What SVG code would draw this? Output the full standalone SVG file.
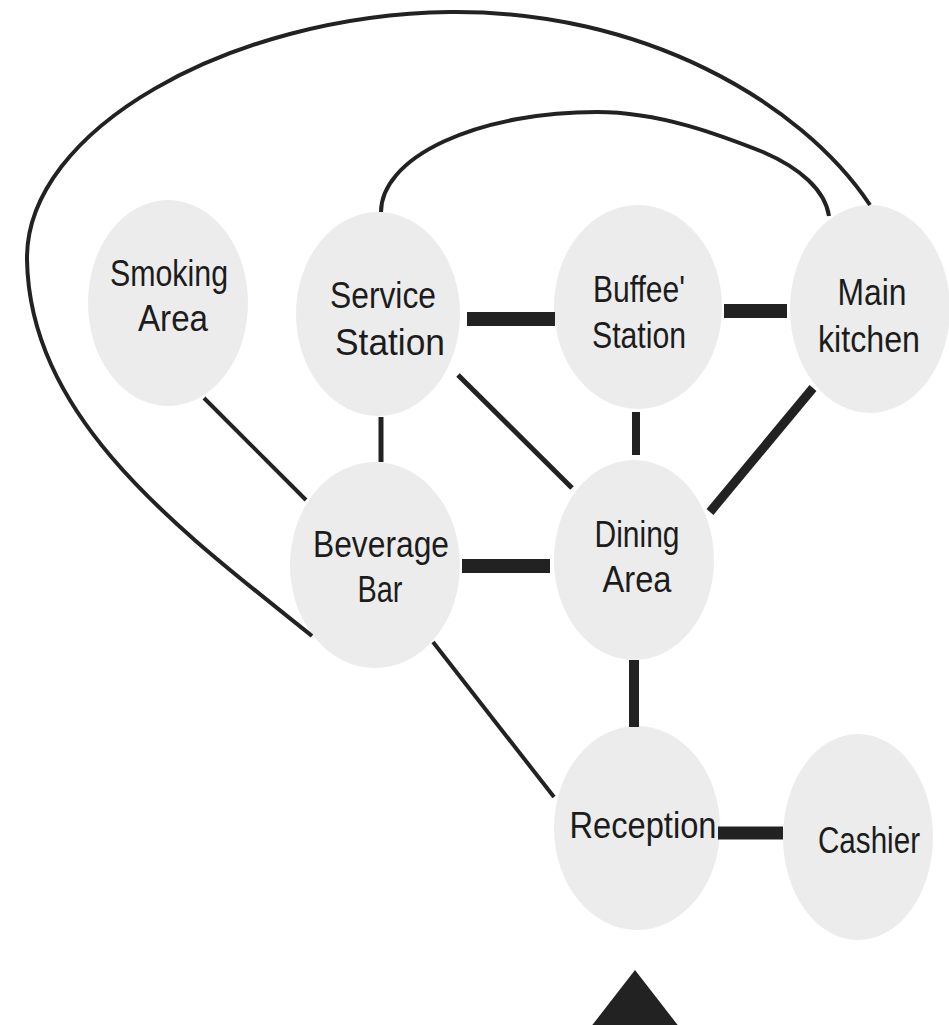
<svg xmlns="http://www.w3.org/2000/svg" width="949" height="1025" viewBox="0 0 949 1025">
<style>
.node ellipse{fill:#ececec;}
.node text{font-family:"Liberation Sans",Arial,sans-serif;font-size:36px;fill:#1c1c1c;text-anchor:middle;}
.e{stroke:#222;fill:none;stroke-linecap:butt;}
.thin{stroke-width:4;}
.mid{stroke-width:9;}
.thick{stroke-width:14;}
</style>
<rect width="949" height="1025" fill="#ffffff"/>
<g id="nodes">
<g id="smoking-area" class="node"><ellipse cx="168" cy="303" rx="80" ry="103"/><text x="169" y="286" textLength="118" lengthAdjust="spacingAndGlyphs">Smoking</text><text x="173" y="331" textLength="70" lengthAdjust="spacingAndGlyphs">Area</text></g>
<g id="service-station" class="node"><ellipse cx="378" cy="314" rx="82" ry="102"/><text x="383" y="308" textLength="106" lengthAdjust="spacingAndGlyphs">Service</text><text x="390" y="355" textLength="110" lengthAdjust="spacingAndGlyphs">Station</text></g>
<g id="buffee-station" class="node"><ellipse cx="638" cy="307" rx="84" ry="102"/><text x="639" y="302" textLength="92" lengthAdjust="spacingAndGlyphs">Buffee'</text><text x="639" y="348" textLength="94" lengthAdjust="spacingAndGlyphs">Station</text></g>
<g id="main-kitchen" class="node"><ellipse cx="870" cy="309" rx="80" ry="104"/><text x="872" y="305" textLength="69" lengthAdjust="spacingAndGlyphs">Main</text><text x="869" y="352" textLength="102" lengthAdjust="spacingAndGlyphs">kitchen</text></g>
<g id="beverage-bar" class="node"><ellipse cx="375" cy="565" rx="85" ry="103"/><text x="381" y="557" textLength="136" lengthAdjust="spacingAndGlyphs">Beverage</text><text x="380" y="602" textLength="45" lengthAdjust="spacingAndGlyphs">Bar</text></g>
<g id="dining-area" class="node"><ellipse cx="634" cy="560" rx="80" ry="100"/><text x="637" y="547" textLength="85" lengthAdjust="spacingAndGlyphs">Dining</text><text x="637" y="592" textLength="69" lengthAdjust="spacingAndGlyphs">Area</text></g>
<g id="reception" class="node"><ellipse cx="637" cy="828" rx="83" ry="102"/><text x="643" y="838" textLength="147" lengthAdjust="spacingAndGlyphs">Reception</text></g>
<g id="cashier" class="node"><ellipse cx="858" cy="837" rx="75" ry="103"/><text x="869" y="853" textLength="102" lengthAdjust="spacingAndGlyphs">Cashier</text></g>
</g>
<g id="connectors">
<path class="e thin" d="M312,636 C180,530 30,420 27,260 C25,130 230,15 450,12 C640,10 800,100 870,205"/>
<path class="e thin" d="M381,212 A216,100 0 0 1 597,112 C660,112 720,135 763,152 C800,168 825,190 829,216"/>
<line class="e thick" x1="467" y1="319" x2="555" y2="319"/>
<line class="e thick" x1="724" y1="311" x2="787" y2="311"/>
<line class="e mid" x1="813" y1="388" x2="710" y2="512"/>
<line class="e" style="stroke-width:8" x1="636" y1="412" x2="636" y2="455"/>
<line class="e" style="stroke-width:5" x1="381" y1="417" x2="381" y2="462"/>
<line class="e" style="stroke-width:5" x1="458" y1="375" x2="572" y2="488"/>
<line class="e thin" x1="204" y1="398" x2="306" y2="500"/>
<line class="e thick" x1="462" y1="566" x2="550" y2="566"/>
<line class="e" style="stroke-width:10" x1="634" y1="660" x2="634" y2="727"/>
<line class="e thin" x1="433" y1="642" x2="554" y2="797"/>
<line class="e" style="stroke-width:13" x1="718" y1="833" x2="783" y2="833"/>
</g>
<polygon id="entrance" points="635,970 590,1028 680,1028" fill="#222"/>
</svg>
